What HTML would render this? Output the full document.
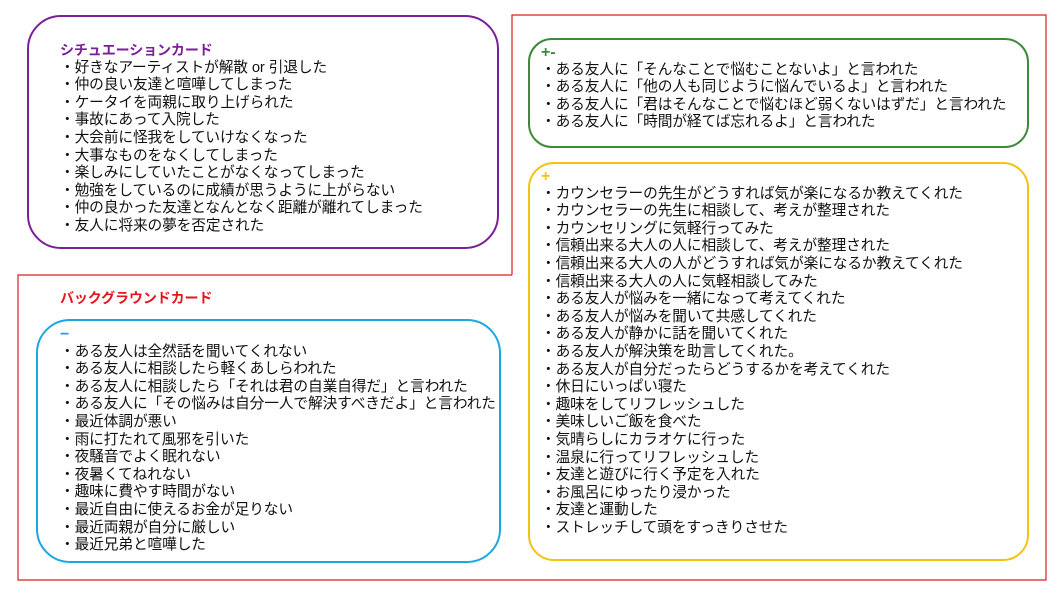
<!DOCTYPE html>
<html><head><meta charset="utf-8"><style>
body{margin:0;width:1063px;height:598px;background:#fff;position:relative;overflow:hidden;font-family:"Liberation Sans","Noto Sans CJK JP",sans-serif;}
.box{position:absolute;box-sizing:border-box;border-radius:34px;}
.t{position:absolute;font-size:14.7px;line-height:17.6px;color:#111;white-space:nowrap;letter-spacing:-0.1px;}
.h{font-weight:bold;font-size:14px;}
.s{font-size:16px;font-weight:bold;}
</style></head><body>
<svg width="1063" height="598" style="position:absolute;left:0;top:0">
<polyline points="512,275 512,15 1046,15 1046,580 18,580 18,275 512,275" fill="none" stroke="#d9201e" stroke-width="1.2"/>
</svg>
<div class="box" style="left:27px;top:15px;width:472px;height:234px;border:2.5px solid #7a1f98;"></div>
<div class="box" style="left:528px;top:38px;width:501px;height:110px;border:2.5px solid #3e8a3a;border-radius:24px;"></div>
<div class="box" style="left:528px;top:162px;width:501px;height:399px;border:2.5px solid #f2c311;border-radius:26px;"></div>
<div class="box" style="left:36px;top:319px;width:465px;height:244px;border:2.5px solid #1ba7e2;border-radius:34px;"></div>

<div class="t" style="left:60px;top:42px;">
<div class="h" style="color:#7a1f98">シチュエーションカード</div>
・好きなアーティストが解散 or 引退した<br>・仲の良い友達と喧嘩してしまった<br>・ケータイを両親に取り上げられた<br>・事故にあって入院した<br>・大会前に怪我をしていけなくなった<br>・大事なものをなくしてしまった<br>・楽しみにしていたことがなくなってしまった<br>・勉強をしているのに成績が思うように上がらない<br>・仲の良かった友達となんとなく距離が離れてしまった<br>・友人に将来の夢を否定された
</div>

<div class="t h" style="left:60px;top:290px;color:#e8141b">バックグラウンドカード</div>

<div class="t" style="left:60px;top:326px;">
<div class="s" style="color:#1ba7e2">−</div>
・ある友人は全然話を聞いてくれない<br>・ある友人に相談したら軽くあしらわれた<br>・ある友人に相談したら「それは君の自業自得だ」と言われた<br>・ある友人に「その悩みは自分一人で解決すべきだよ」と言われた<br>・最近体調が悪い<br>・雨に打たれて風邪を引いた<br>・夜騒音でよく眠れない<br>・夜暑くてねれない<br>・趣味に費やす時間がない<br>・最近自由に使えるお金が足りない<br>・最近両親が自分に厳しい<br>・最近兄弟と喧嘩した
</div>

<div class="t" style="left:541px;top:44px;">
<div class="s" style="color:#3e8a3a">+-</div>
・ある友人に「そんなことで悩むことないよ」と言われた<br>・ある友人に「他の人も同じように悩んでいるよ」と言われた<br>・ある友人に「君はそんなことで悩むほど弱くないはずだ」と言われた<br>・ある友人に「時間が経てば忘れるよ」と言われた
</div>

<div class="t" style="left:541px;top:168px;">
<div class="s" style="color:#f2c311">+</div>
・カウンセラーの先生がどうすれば気が楽になるか教えてくれた<br>・カウンセラーの先生に相談して、考えが整理された<br>・カウンセリングに気軽行ってみた<br>・信頼出来る大人の人に相談して、考えが整理された<br>・信頼出来る大人の人がどうすれば気が楽になるか教えてくれた<br>・信頼出来る大人の人に気軽相談してみた<br>・ある友人が悩みを一緒になって考えてくれた<br>・ある友人が悩みを聞いて共感してくれた<br>・ある友人が静かに話を聞いてくれた<br>・ある友人が解決策を助言してくれた。<br>・ある友人が自分だったらどうするかを考えてくれた<br>・休日にいっぱい寝た<br>・趣味をしてリフレッシュした<br>・美味しいご飯を食べた<br>・気晴らしにカラオケに行った<br>・温泉に行ってリフレッシュした<br>・友達と遊びに行く予定を入れた<br>・お風呂にゆったり浸かった<br>・友達と運動した<br>・ストレッチして頭をすっきりさせた
</div>
</body></html>
